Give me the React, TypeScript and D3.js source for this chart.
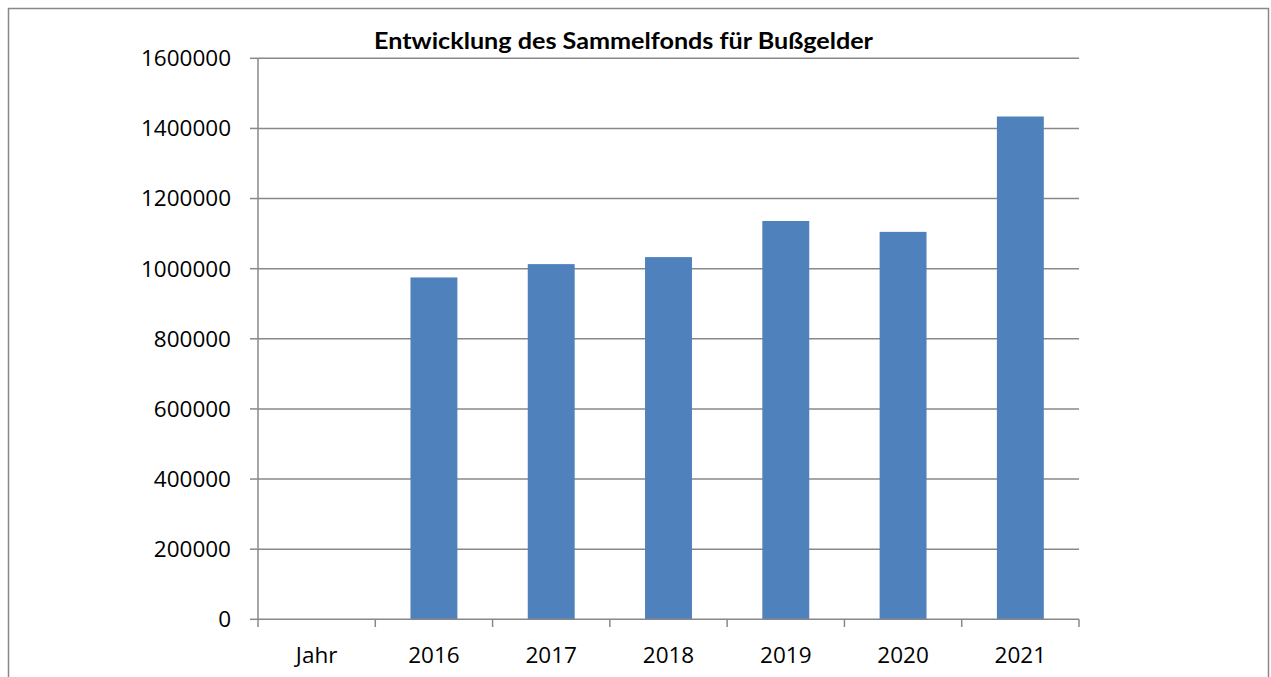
import React from "react";
import * as d3 from "d3";

const categories: string[] = ["Jahr", "2016", "2017", "2018", "2019", "2020", "2021"];
const values: (number | null)[] = [null, 975000, 1013000, 1033000, 1136000, 1105000, 1434000];
const yTicks: number[] = [0, 200000, 400000, 600000, 800000, 1000000, 1200000, 1400000, 1600000];
const title = "Entwicklung des Sammelfonds für Bußgelder";

export default function App() {
  const W = 1271;
  const H = 677;
  const left = 258;
  const right = 1079;
  const top = 58.3;
  const bottom = 619.3;
  const x = d3.scaleBand<string>().domain(categories).range([left, right]).padding(0);
  const y = d3.scaleLinear().domain([0, 1600000]).range([bottom, top]);
  const bw = x.bandwidth() * 0.4;
  const font = "'Open Sans', 'Liberation Sans', sans-serif";
  const grid = "#888888";
  return (
    <svg
      width={W}
      height={H}
      style={{ position: "absolute", left: 0, top: 0, background: "#fff" }}
      fontFamily={font}
    >
      <rect x={0} y={0} width={W} height={H} fill="#fff" />
      <rect x={8.5} y={8.5} width={1260} height={720} fill="none" stroke="#888" strokeWidth={1.5} />
      {yTicks.map((t) => (
        <g key={t}>
          {t > 0 && (
            <line x1={left} x2={right} y1={y(t)} y2={y(t)} stroke={grid} strokeWidth={1.5} />
          )}
          <line x1={250} x2={left} y1={y(t)} y2={y(t)} stroke={grid} strokeWidth={1.5} />
          <text x={231} y={y(t)} dy="0.35em" textAnchor="end" fontSize={22.5} fill="#000">
            {t}
          </text>
        </g>
      ))}
      {categories.map((c, i) =>
        values[i] != null ? (
          <rect
            key={c}
            x={(x(c) as number) + (x.bandwidth() - bw) / 2}
            y={y(values[i] as number)}
            width={bw}
            height={bottom - y(values[i] as number)}
            fill="#4f81bd"
          />
        ) : null
      )}
      <line x1={left} x2={left} y1={top} y2={bottom} stroke={grid} strokeWidth={1.5} />
      <line x1={left} x2={right} y1={bottom} y2={bottom} stroke={grid} strokeWidth={1.5} />
      {[...categories.map((c) => x(c) as number), right].map((px, i) => (
        <line key={i} x1={px} x2={px} y1={bottom} y2={627} stroke={grid} strokeWidth={1.5} />
      ))}
      {categories.map((c) => (
        <text
          key={c}
          x={(x(c) as number) + x.bandwidth() / 2}
          y={663}
          textAnchor="middle"
          fontSize={22.5}
          fill="#000"
        >
          {c}
        </text>
      ))}
      <text
        x={623.5}
        y={49}
        textAnchor="middle"
        fontSize={22}
        fontWeight="bold"
        fontFamily="Lato, 'Open Sans', sans-serif"
        fill="#000"
        textLength={499}
        lengthAdjust="spacingAndGlyphs"
      >
        {title}
      </text>
    </svg>
  );
}
